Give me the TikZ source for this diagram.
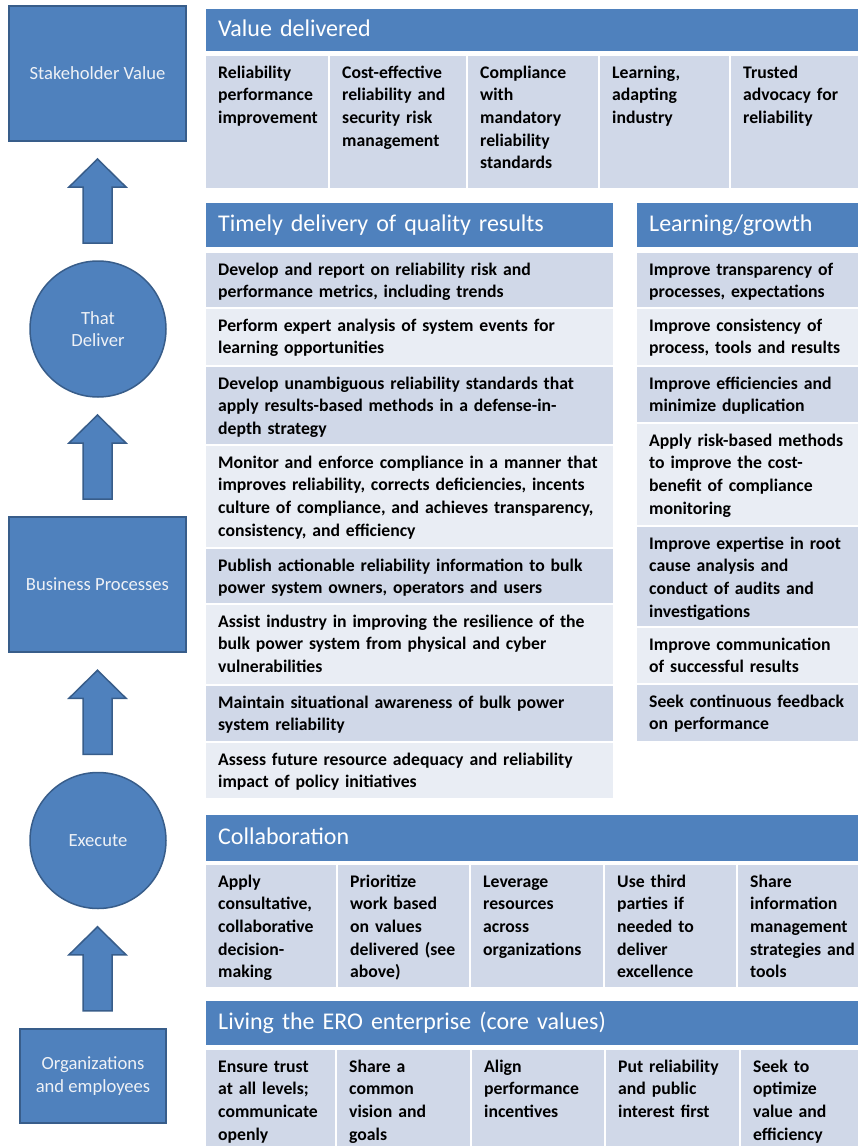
\documentclass[tikz,border=0pt]{standalone}
\usepackage{fontspec}
\setmainfont{Carlito}
\usepackage{tikz}
\usetikzlibrary{calc}

\definecolor{hdrblue}{HTML}{4F81BD}
\definecolor{edgeblue}{HTML}{385D8A}
\definecolor{cellA}{HTML}{D0D8E8}
\definecolor{cellB}{HTML}{E9EDF4}
\definecolor{lbltxt}{HTML}{EEF1F6}

\begin{document}
\begin{tikzpicture}[x=1pt, y=-1pt,
    lbox/.style={rectangle, draw=edgeblue, line width=1.5pt, fill=hdrblue, text=lbltxt, align=center, inner sep=2pt, font=\fontsize{18.6}{22.5}\selectfont},
    lcirc/.style={circle, draw=edgeblue, line width=1.5pt, fill=hdrblue, text=lbltxt, align=center, inner sep=0pt, minimum size=136pt, font=\fontsize{18.6}{22.5}\selectfont},
    uparr/.style={draw=edgeblue, line width=1.5pt, fill=hdrblue, line join=miter},
    hdr/.style 2 args={anchor=north west, fill=hdrblue, text=white, align=left, inner xsep=12pt, inner ysep=0pt, text width=#1-24, minimum height=#2, text height=17pt, text depth=5pt, font=\fontsize{24}{28}\selectfont},
    cell/.style 2 args={anchor=north west, align=left, inner xsep=12pt, inner ysep=0pt, text width=#1-24, text height=22pt, text depth=#2-22, font=\bfseries\fontsize{17.7}{22.6}\selectfont, execute at begin node={\rightskip=0pt plus 1fil minus 30pt}}]
    \useasboundingbox (0,0) rectangle (858,1146);

    % left column
    \node[lbox, minimum width=177pt, minimum height=135pt] (sv) at (97.5,73.5) {Stakeholder Value};
    \node[lcirc] (td) at (98,329) {That\\Deliver};
    \node[lbox, minimum width=177pt, minimum height=135pt] (bp) at (97.5,584.5) {Business Processes};
    \node[lcirc] (ex) at (98,840.5) {Execute};
    \node[lbox, minimum width=146pt, minimum height=94pt] (org) at (93,1076) {Organizations\\and employees};

    \foreach \lo/\hi in {td/sv, bp/td, ex/bp, org/ex} {
        \coordinate (m) at ($(\lo.north)!0.5!(\hi.south)$);
        \draw[uparr] (sv.center |- m) ++(-14.5,42) -- ++(0,-56) -- ++(-14,0) -- ++(28.5,-28) -- ++(28.5,28) -- ++(-14,0) -- ++(0,56) -- cycle;
    }

    % value delivered
    \node[hdr={652}{42}] (vd) at (206,9) {Value delivered};
    \node[cell={122}{132}, fill=cellA] (vd1) at (206,56) {Reliability\\performance\\improvement};
    \node[cell={136}{132}, fill=cellA] (vd2) at (330,56) {Cost-effective\\reliability and\\security risk\\management};
    \node[cell={130}{132}, fill=cellA] (vd3) at (468,56) {Compliance\\with\\mandatory\\reliability\\standards};
    \node[cell={129}{132}, fill=cellA] (vd4) at (600,56) {Learning,\\adapting\\industry};
    \node[cell={127}{132}, fill=cellA] (vd5) at (731,56) {Trusted\\advocacy for\\reliability};

    % timely delivery
    \node[hdr={407}{44}] (tq) at (206,203) {Timely delivery of quality results};
    \node[cell={407}{54}, fill=cellA] (tq1) at (206,253) {Develop and report on reliability risk and\\performance metrics, including trends};
    \node[cell={407}{56}, fill=cellB] (tq2) at (206,309) {Perform expert analysis of system events for\\learning opportunities};
    \node[cell={407}{77}, fill=cellA] (tq3) at (206,367) {Develop unambiguous reliability standards that\\apply results-based methods in a defense-in-\\depth strategy};
    \node[cell={407}{101}, fill=cellB] (tq4) at (206,446) {Monitor and enforce compliance in a manner that\\improves reliability, corrects deficiencies, incents\\culture of compliance, and achieves transparency,\\consistency, and efficiency};
    \node[cell={407}{54}, fill=cellA] (tq5) at (206,549) {Publish actionable reliability information to bulk\\power system owners, operators and users};
    \node[cell={407}{79}, fill=cellB] (tq6) at (206,605) {Assist industry in improving the resilience of the\\bulk power system from physical and cyber\\vulnerabilities};
    \node[cell={407}{55}, fill=cellA] (tq7) at (206,686) {Maintain situational awareness of bulk power\\system reliability};
    \node[cell={407}{55}, fill=cellB] (tq8) at (206,743) {Assess future resource adequacy and reliability\\impact of policy initiatives};

    % learning
    \node[hdr={221}{44}] (lg) at (637,203) {Learning/growth};
    \node[cell={221}{54}, fill=cellA] (lg1) at (637,253) {Improve transparency of\\processes, expectations};
    \node[cell={221}{56}, fill=cellB] (lg2) at (637,309) {Improve consistency of\\process, tools and results};
    \node[cell={221}{55}, fill=cellA] (lg3) at (637,367) {Improve efficiencies and\\minimize duplication};
    \node[cell={221}{101}, fill=cellB] (lg4) at (637,424) {Apply risk-based methods\\to improve the cost-\\benefit of compliance\\monitoring};
    \node[cell={221}{99}, fill=cellA] (lg5) at (637,527) {Improve expertise in root\\cause analysis and\\conduct of audits and\\investigations};
    \node[cell={221}{55}, fill=cellB] (lg6) at (637,628) {Improve communication\\of successful results};
    \node[cell={221}{56}, fill=cellA] (lg7) at (637,685) {Seek continuous feedback\\on performance};

    % collaboration
    \node[hdr={652}{46}] (co) at (206,815) {Collaboration};
    \node[cell={130}{122}, fill=cellA] (co1) at (206,865) {Apply\\consultative,\\collaborative\\decision-\\making};
    \node[cell={131}{122}, fill=cellA] (co2) at (338,865) {Prioritize\\work based\\on values\\delivered (see\\above)};
    \node[cell={132}{122}, fill=cellA] (co3) at (471,865) {Leverage\\resources\\across\\organizations};
    \node[cell={131}{122}, fill=cellA] (co4) at (605,865) {Use third\\parties if\\needed to\\deliver\\excellence};
    \node[cell={120}{122}, fill=cellA] (co5) at (738,865) {Share\\information\\management\\strategies and\\tools};

    % core values
    \node[hdr={652}{44}] (cv) at (206,1001) {Living the ERO enterprise (core values)};
    \node[cell={129}{96}, fill=cellA] (cv1) at (206,1050) {Ensure trust\\at all levels;\\communicate\\openly};
    \node[cell={133}{96}, fill=cellA] (cv2) at (337,1050) {Share a\\common\\vision and\\goals};
    \node[cell={132}{96}, fill=cellA] (cv3) at (472,1050) {Align\\performance\\incentives};
    \node[cell={133}{96}, fill=cellA] (cv4) at (606,1050) {Put reliability\\and public\\interest first};
    \node[cell={117}{96}, fill=cellA] (cv5) at (741,1050) {Seek to\\optimize\\value and\\efficiency};
\end{tikzpicture}
\end{document}
